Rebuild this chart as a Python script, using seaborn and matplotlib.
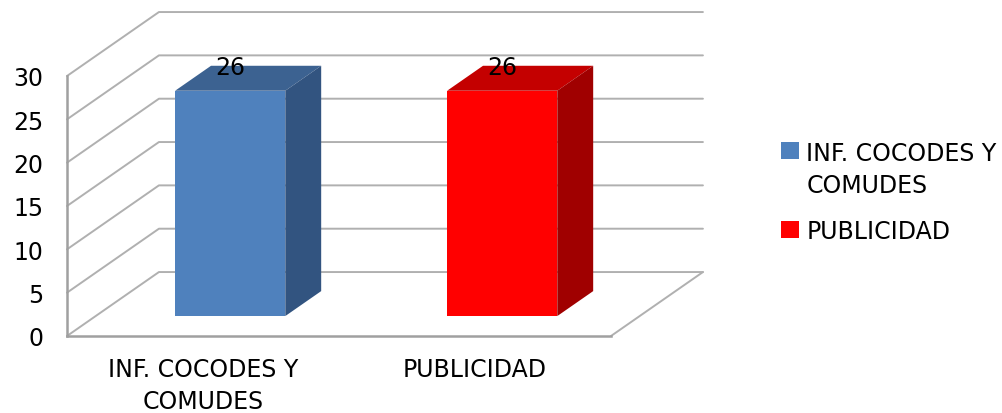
import matplotlib
matplotlib.use("Agg")
import matplotlib.pyplot as plt
import seaborn as sns
from matplotlib.patches import Patch, Polygon

# Chart data
categories = ["INF. COCODES Y\nCOMUDES", "PUBLICIDAD"]
values = [26, 26]
y_ticks = [0, 5, 10, 15, 20, 25, 30]

# Colours: front, top, side
front_colors = ["#4F81BD", "#FF0000"]
top_colors = ["#3C6291", "#C40000"]
side_colors = ["#325480", "#A00000"]
wall_color = "#B0B0B0"
axis_color = "#A0A0A0"

# Fake 3D depth, in data units
wall_dx, wall_dy = 0.338, 7.38
bar_shift_x, bar_shift_y = 0.1, 2.3
bar_dx, bar_dy = 0.132, 2.88

sns.set_theme(style="white")
plt.rcParams["font.family"] = ["DejaVu Sans"]
plt.rcParams["text.color"] = "black"

fig = plt.figure(figsize=(10.03, 4.14), dpi=100)
ax = fig.add_axes([67 / 1003, 77 / 414, 544 / 1003, 260 / 414])

sns.barplot(x=categories, y=values, hue=categories, palette=front_colors,
            width=0.405, legend=False, saturation=1, ax=ax, zorder=3)
ax.set_xlim(-0.5, 1.5)
ax.set_ylim(0, 30)

# Back wall lines, side wall diagonals
x0, x1 = ax.get_xlim()
for t in y_ticks:
    ax.plot([x0, x0 + wall_dx, x1 + wall_dx], [t, t + wall_dy, t + wall_dy],
            color=wall_color, lw=1.4, clip_on=False, zorder=1)
ax.plot([x1, x1 + wall_dx], [0, wall_dy], color=wall_color, lw=1.4, clip_on=False, zorder=1)

# Move bars off the front plane and add top and side faces
bars = [p for p in ax.patches]
for bar, top_c, side_c, val in zip(bars, top_colors, side_colors, values):
    bar.set_x(bar.get_x() + bar_shift_x)
    bar.set_y(bar_shift_y)
    bar.set_clip_on(False)
    bar.set_edgecolor("none")
    left = bar.get_x()
    right = left + bar.get_width()
    low = bar_shift_y
    high = low + val
    ax.add_patch(Polygon([(left, high), (right, high), (right + bar_dx, high + bar_dy), (left + bar_dx, high + bar_dy)],
                         facecolor=top_c, edgecolor="none", clip_on=False, zorder=3))
    ax.add_patch(Polygon([(right, low), (right + bar_dx, low + bar_dy), (right + bar_dx, high + bar_dy), (right, high)],
                         facecolor=side_c, edgecolor="none", clip_on=False, zorder=3))
    ax.annotate(str(val), ((left + right) / 2, val), xytext=(0, 44 * 0.72), textcoords="offset points",
                ha="center", va="center", fontsize=17, color="black", zorder=5)

# Axes
sns.despine(ax=ax, top=True, right=True)
for side in ["left", "bottom"]:
    ax.spines[side].set_color(axis_color)
    ax.spines[side].set_linewidth(1.8)
ax.set_yticks(y_ticks)
ax.tick_params(axis="both", length=0, labelsize=17, labelcolor="black")
ax.tick_params(axis="y", pad=17)
ax.tick_params(axis="x", pad=15)
for lab in ax.get_xticklabels():
    lab.set_linespacing(1.42)

# Legend
handles = [Patch(facecolor=c, edgecolor="none") for c in front_colors]
leg = fig.legend(handles, categories, loc="upper left", bbox_to_anchor=(764 / 1003, 1 - 125 / 414),
                 frameon=False, fontsize=17, handlelength=0.8, handleheight=0.7,
                 handletextpad=0.3, labelspacing=0.92, borderpad=0.2)
for txt in leg.get_texts():
    txt.set_linespacing(1.45)
# keep the swatch next to the first line of the wrapped label
leg.legend_handles[0].set_y(14)

plt.savefig("out.png", dpi=100)
